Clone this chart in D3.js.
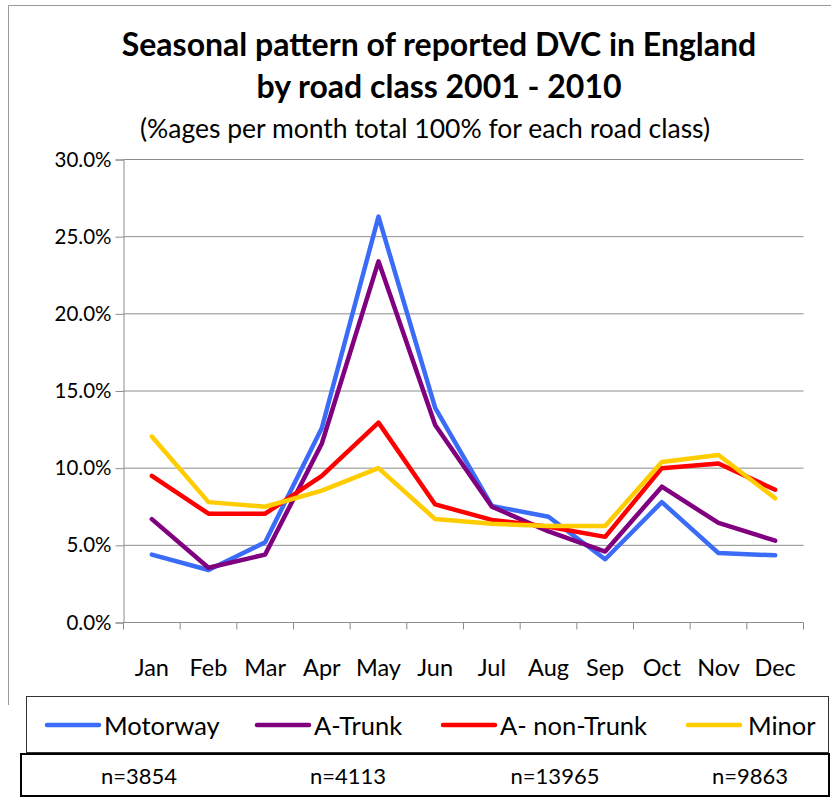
<!DOCTYPE html>
<html lang="en">
<head>
<meta charset="UTF-8">
<title>Seasonal pattern of reported DVC in England</title>
<script src="https://d3js.org/d3.v7.min.js"></script>
<style>
  body { margin: 0; background: #fff; }
  svg text { font-family: Lato, 'Open Sans', sans-serif; fill: #000; }
</style>
</head>
<body>
<div id="chart"></div>
<script>
// data (percent of yearly total per month)
const months = ["Jan", "Feb", "Mar", "Apr", "May", "Jun", "Jul", "Aug", "Sep", "Oct", "Nov", "Dec"];
const motorway = [4.4, 3.4, 5.2, 12.6, 26.3, 13.9, 7.55, 6.85, 4.1, 7.8, 4.5, 4.35];
const aTrunk = [6.7, 3.55, 4.4, 11.6, 23.4, 12.8, 7.5, 5.9, 4.6, 8.8, 6.45, 5.3];
const aNonTrunk = [9.5, 7.05, 7.05, 9.5, 12.95, 7.65, 6.65, 6.2, 5.55, 10.0, 10.3, 8.6];
const minor = [12.05, 7.8, 7.5, 8.55, 10.0, 6.7, 6.4, 6.25, 6.25, 10.4, 10.85, 8.05];
const seriesNames = ["Motorway", "A-Trunk", "A- non-Trunk", "Minor"];
const seriesColors = ["#3a6cf7", "#800080", "#ff0000", "#ffcc00"];
const sampleSizes = ["n=3854", "n=4113", "n=13965", "n=9863"];
const yTicks = [0, 5, 10, 15, 20, 25, 30];

const series = [motorway, aTrunk, aNonTrunk, minor];

const width = 831, height = 800;
const svg = d3.select("#chart").append("svg").attr("width", width).attr("height", height);

// outer chart frame (left and top edges visible)
svg.append("path").attr("d", "M8.5,705 V5.5 H831")
  .attr("fill", "none").attr("stroke", "#999").attr("stroke-width", 1);

// titles
svg.append("text").attr("x", 439).attr("y", 56).attr("text-anchor", "middle")
  .style("font-size", "32px").style("font-weight", "bold")
  .text("Seasonal pattern of reported DVC in England");
svg.append("text").attr("x", 439).attr("y", 98).attr("text-anchor", "middle")
  .style("font-size", "32px").style("font-weight", "bold")
  .text("by road class 2001 - 2010");
svg.append("text").attr("x", 425).attr("y", 138).attr("text-anchor", "middle")
  .style("font-size", "26.5px")
  .text("(%ages per month total 100% for each road class)");

const margin = { left: 123.5, right: 803.5, top: 159.5, bottom: 622.5 };
const x = d3.scaleBand().domain(months).range([margin.left, margin.right]);
const y = d3.scaleLinear().domain([0, 30]).range([margin.bottom, margin.top]);

// gridlines
svg.append("g").selectAll("line").data(yTicks.filter(d => d > 0)).join("line")
  .attr("x1", margin.left).attr("x2", margin.right)
  .attr("y1", d => y(d)).attr("y2", d => y(d))
  .attr("stroke", "#8c8c8c").attr("stroke-width", 1);

// y axis
const yAxis = svg.append("g").attr("transform", `translate(${margin.left},0)`)
  .call(d3.axisLeft(y).tickValues(yTicks).tickSize(8).tickPadding(4)
    .tickFormat(d => d3.format(".1f")(d) + "%"));
yAxis.select(".domain").attr("stroke", "#8c8c8c");
yAxis.selectAll(".tick line").attr("stroke", "#8c8c8c");
yAxis.selectAll("text").style("font-size", "20.5px").attr("fill", "#000");

// x axis with ticks at category boundaries
const xAxisG = svg.append("g");
xAxisG.append("line").attr("x1", margin.left).attr("x2", margin.right)
  .attr("y1", margin.bottom).attr("y2", margin.bottom).attr("stroke", "#8c8c8c");
const bounds = months.map(m => x(m)).concat([margin.right]);
xAxisG.selectAll("line.tk").data(bounds).join("line").attr("class", "tk")
  .attr("x1", d => d).attr("x2", d => d)
  .attr("y1", margin.bottom).attr("y2", margin.bottom + 7)
  .attr("stroke", "#8c8c8c");
xAxisG.selectAll("text").data(months).join("text")
  .attr("x", d => x(d) + x.bandwidth() / 2).attr("y", 676)
  .attr("text-anchor", "middle").style("font-size", "23.5px")
  .text(d => d);

// lines
const line = d3.line()
  .x((d, i) => x(months[i]) + x.bandwidth() / 2)
  .y(d => y(d));
svg.append("g").selectAll("path").data(series).join("path")
  .attr("d", line)
  .attr("fill", "none")
  .attr("stroke", (d, i) => seriesColors[i])
  .attr("stroke-width", 4.5)
  .attr("stroke-linejoin", "round")
  .attr("stroke-linecap", "round");

// legend
svg.append("rect").attr("x", 26.5).attr("y", 696.5).attr("width", 802).attr("height", 56)
  .attr("fill", "#fff").attr("stroke", "#333").attr("stroke-width", 1);
const legendX = [47, 257, 443, 688];
const lg = svg.append("g").selectAll("g").data(seriesNames).join("g")
  .attr("transform", (d, i) => `translate(${legendX[i]},725)`);
lg.append("line").attr("x1", 0).attr("x2", 52).attr("y1", 0).attr("y2", 0)
  .attr("stroke", (d, i) => seriesColors[i]).attr("stroke-width", 4.5)
  .attr("stroke-linecap", "round");
lg.append("text").attr("x", (d, i) => i === 3 ? 60 : 57).attr("y", 1).attr("dy", "0.35em")
  .style("font-size", "25.5px").text(d => d);

// sample sizes table
svg.append("rect").attr("x", 21).attr("y", 754).attr("width", 808).attr("height", 42)
  .attr("fill", "#fff").attr("stroke", "#000").attr("stroke-width", 2);
const nX = [139, 348, 555, 750];
svg.append("g").selectAll("text").data(sampleSizes).join("text")
  .attr("x", (d, i) => nX[i]).attr("y", 776).attr("dy", "0.35em")
  .attr("text-anchor", "middle").style("font-size", "22px")
  .text(d => d);
</script>
</body>
</html>
